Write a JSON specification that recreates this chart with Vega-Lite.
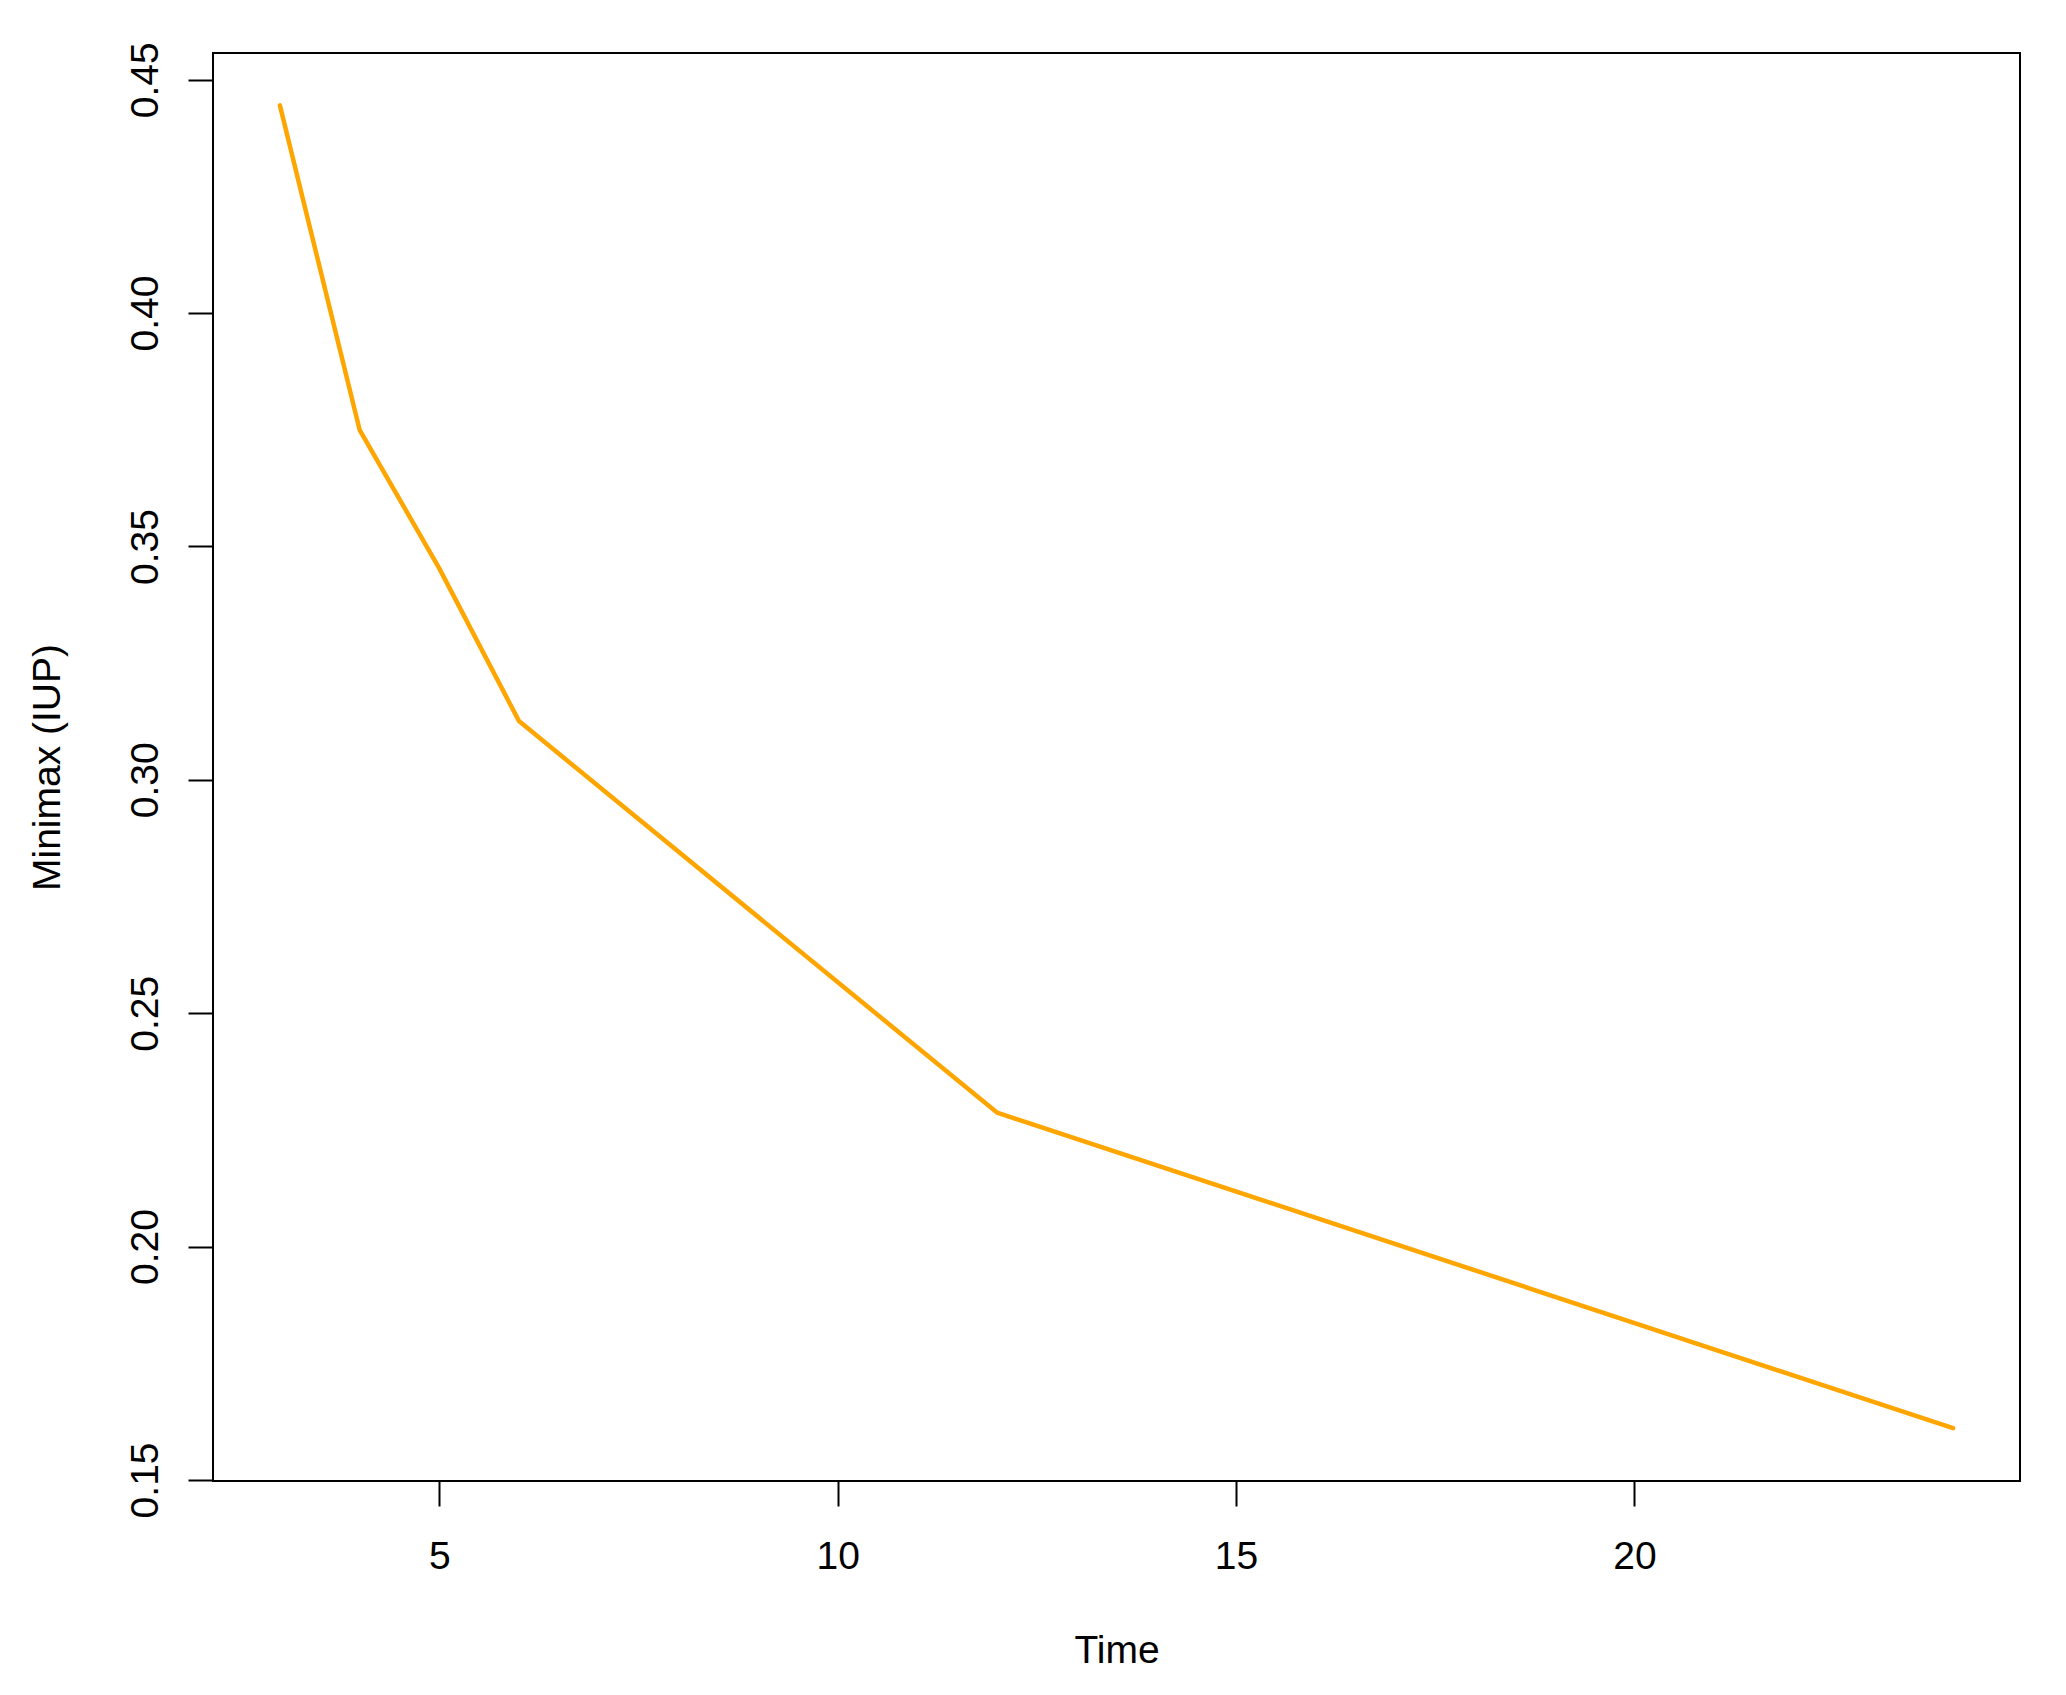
{
  "$schema": "https://vega.github.io/schema/vega-lite/v6.json",
  "autosize": "none",
  "width": 1807,
  "height": 1428,
  "padding": {"left": 213, "top": 53, "right": 46, "bottom": 214},
  "background": "white",
  "config": {
    "view": {"stroke": "black", "strokeWidth": 2},
    "axis": {
      "labelFont": "Liberation Sans",
      "titleFont": "Liberation Sans",
      "labelFontSize": 39,
      "titleFontSize": 39,
      "labelColor": "black",
      "titleColor": "black",
      "titleFontWeight": "normal",
      "tickColor": "black",
      "tickWidth": 2,
      "tickSize": 25,
      "domain": false,
      "grid": false
    }
  },
  "data": {
    "values": [
      {"Time": 3, "Minimax": 0.4445},
      {"Time": 4, "Minimax": 0.3750},
      {"Time": 5, "Minimax": 0.3453},
      {"Time": 6, "Minimax": 0.3126},
      {"Time": 12, "Minimax": 0.2287},
      {"Time": 24, "Minimax": 0.1611}
    ]
  },
  "mark": {"type": "line", "color": "#FFA500", "strokeWidth": 4.5, "strokeCap": "round", "strokeJoin": "round"},
  "encoding": {
    "x": {
      "field": "Time",
      "type": "quantitative",
      "scale": {"domain": [2.16, 24.84], "nice": false, "zero": false},
      "axis": {"values": [5, 10, 15, 20], "title": "Time", "labelPadding": 31, "labelBaseline": "top", "titlePadding": 55, "labelFlush": false}
    },
    "y": {
      "field": "Minimax",
      "type": "quantitative",
      "scale": {"domain": [0.14977, 0.45573], "nice": false, "zero": false},
      "axis": {"values": [0.15, 0.2, 0.25, 0.3, 0.35, 0.4, 0.45], "format": ".2f", "title": "Minimax (IUP)", "labelAngle": -90, "labelAlign": "center", "labelBaseline": "alphabetic", "labelPadding": 31, "titlePadding": 59, "labelFlush": false}
    }
  }
}
